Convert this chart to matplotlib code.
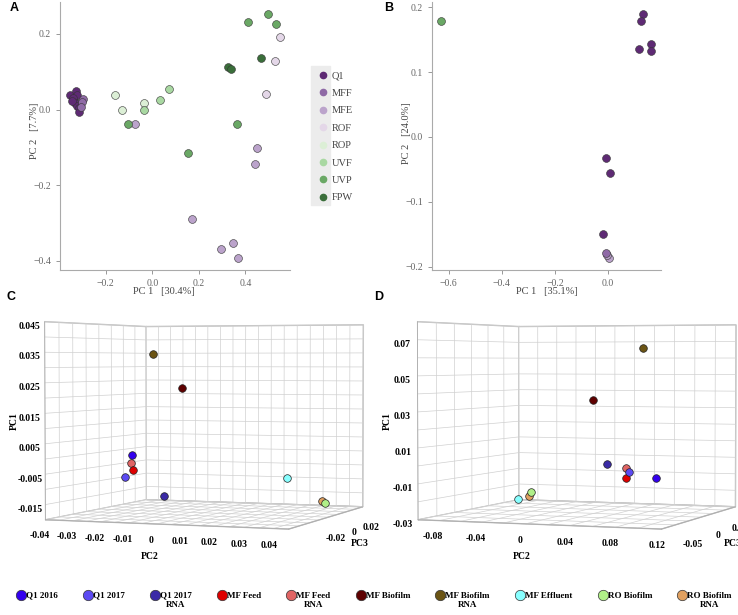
import numpy as np
import matplotlib
matplotlib.use("Agg")
import matplotlib.pyplot as plt
from matplotlib.lines import Line2D
from matplotlib.patches import Rectangle

plt.rcParams["font.family"] = ["Liberation Serif", "DejaVu Serif"]
plt.rcParams["grid.color"] = "#d0d0d0"
plt.rcParams["grid.linewidth"] = 0.5

# ---- panel A / B data (PCA scores) ----
groups = ["Q1", "MFF", "MFE", "ROF", "ROP", "UVF", "UVP", "FPW"]
group_colors = ["#5e2a74", "#8f6aa6", "#bba3cb", "#e4d7e8",
                "#dcefd6", "#a9d8a2", "#6aa865", "#3a6e3a"]

a_x = {
    "Q1": [-0.354, -0.337, -0.328, -0.322, -0.342, -0.332, -0.325, -0.317, -0.314, -0.347],
    "MFF": [-0.297, -0.304, -0.308],
    "MFE": [-0.074, 0.448, 0.441, 0.169, 0.294, 0.348, 0.370],
    "ROF": [0.549, 0.529, 0.487],
    "ROP": [-0.160, -0.129, -0.034],
    "UVF": [-0.034, 0.034, 0.073],
    "UVP": [-0.103, 0.413, 0.496, 0.530, 0.365, 0.155],
    "FPW": [0.467, 0.324, 0.338],
}
a_y = {
    "Q1": [0.038, 0.025, 0.048, 0.037, 0.031, 0.018, 0.009, 0.003, -0.006, 0.022],
    "MFF": [0.029, 0.019, 0.006],
    "MFE": [-0.037, -0.102, -0.144, -0.289, -0.368, -0.353, -0.393],
    "ROF": [0.192, 0.127, 0.042],
    "ROP": [0.039, 0.000, 0.016],
    "UVF": [0.000, 0.024, 0.054],
    "UVP": [-0.039, 0.232, 0.253, 0.225, -0.039, -0.116],
    "FPW": [0.137, 0.113, 0.106],
}

b_x = {
    "Q1": [0.133, 0.123, 0.117, 0.161, 0.163, -0.009, 0.009, -0.019],
    "MFE": [0.002, -0.003],
    "MFF": [-0.008],
    "UVP": [-0.628],
}
b_y = {
    "Q1": [0.189, 0.178, 0.136, 0.143, 0.132, -0.032, -0.056, -0.149],
    "MFE": [-0.186, -0.182],
    "MFF": [-0.179],
    "UVP": [0.178],
}

# ---- panel C / D data (3D PCA) ----
samples = ["Q1 2016", "Q1 2017", "Q1 2017\nRNA", "MF Feed", "MF Feed\nRNA",
           "MF Biofilm", "MF Biofilm\nRNA", "MF Effluent", "RO Biofilm",
           "RO Biofilm\nRNA"]
sample_colors = ["#3300ee", "#5c4af2", "#3b2ba6", "#dd0000", "#e06464",
                 "#5e0000", "#6b5414", "#88ffff", "#b0ef88", "#e0a060"]

c_pc1 = [-0.0009, -0.0089, -0.0150, -0.0063, -0.0039, 0.0227, 0.0345, -0.0075, -0.0156, -0.0150]
c_pc2 = [-0.0293, -0.0319, -0.0169, -0.0288, -0.0297, -0.0099, -0.0210, 0.0287, 0.0424, 0.0414]
c_pc3 = [-0.006, -0.006, -0.006, -0.006, -0.006, -0.006, -0.006, -0.006, -0.006, -0.006]

d_pc1 = [-0.0086, -0.0054, -0.0012, -0.0091, -0.0031, 0.0359, 0.0657, -0.0230, -0.0187, -0.0209]
d_pc2 = [0.0788, 0.0534, 0.0325, 0.0507, 0.0507, 0.0195, 0.0663, -0.0534, -0.0410, -0.0432]
d_pc3 = [0.0, 0.0, 0.0, 0.0, 0.0, 0.0, 0.0, 0.0, 0.0, 0.0]

fig = plt.figure(figsize=(7.38, 6.15), dpi=100)


def style_2d(ax):
    for s in ["top", "right"]:
        ax.spines[s].set_visible(False)
    for s in ["left", "bottom"]:
        ax.spines[s].set_color("#aaaaaa")
        ax.spines[s].set_linewidth(0.8)
    ax.tick_params(colors="#888888", labelcolor="#666666", labelsize=7, length=3, width=0.6)


# panel A
axA = fig.add_axes([60 / 738, 1 - 270 / 615, 230 / 738, 268 / 615])
for g, c in zip(groups, group_colors):
    axA.scatter(a_x[g], a_y[g], s=32, color=c, edgecolor="#333333", linewidth=0.4, zorder=3)
axA.set_xlim(-0.397, 0.592)
axA.set_ylim(-0.424, 0.284)
axA.set_xticks([-0.2, 0.0, 0.2, 0.4])
axA.set_yticks([-0.4, -0.2, 0.0, 0.2])
style_2d(axA)
axA.set_xlabel("PC 1   [30.4%]", fontsize=7.5, color="#444444")
axA.set_ylabel("PC 2   [7.7%]", fontsize=7.5, color="#444444")
axA.xaxis.set_label_coords(0.45, -0.062)
axA.yaxis.set_label_coords(-0.09, 0.52)

fig.patches.append(Rectangle((311 / 738, 1 - 205 / 615), 19 / 738, 139 / 615,
                             transform=fig.transFigure, color="#ececec", zorder=0))
handlesA = [Line2D([], [], marker="o", linestyle="", markersize=4.5, color=c) for c in group_colors]
fig.legend(handlesA, groups, loc="upper left", bbox_to_anchor=(313 / 738, 1 - 66 / 615),
           frameon=False, fontsize=7.5, labelcolor="#444444", handletextpad=0.3,
           labelspacing=0.78, borderpad=0, handlelength=1.0)

# panel B
axB = fig.add_axes([432 / 738, 1 - 270 / 615, 229.5 / 738, 268 / 615])
for g in ["UVP", "Q1", "MFE", "MFF"]:
    c = group_colors[groups.index(g)]
    axB.scatter(b_x[g], b_y[g], s=32, color=c, edgecolor="#333333", linewidth=0.4, zorder=3)
axB.set_xlim(-0.663, 0.201)
axB.set_ylim(-0.205, 0.208)
axB.set_xticks([-0.6, -0.4, -0.2, 0.0])
axB.set_yticks([-0.2, -0.1, 0.0, 0.1, 0.2])
style_2d(axB)
axB.set_xlabel("PC 1   [35.1%]", fontsize=7.5, color="#444444")
axB.set_ylabel("PC 2   [24.0%]", fontsize=7.5, color="#444444")
axB.xaxis.set_label_coords(0.5, -0.062)
axB.yaxis.set_label_coords(-0.09, 0.51)


def fmt(v):
    if abs(v) < 1e-9:
        return "0"
    return ("%.3f" % v).rstrip("0")


def pick(ticks, labelled):
    return [fmt(v) if any(abs(v - w) < 1e-9 for w in labelled) else "" for v in ticks]


def style_3d(ax, xt, xl, yt, yl, zt, zl):
    ax.set_facecolor("none")
    ax.set_xticks(xt)
    ax.set_yticks(yt)
    ax.set_zticks(zt)
    ax.set_xticklabels(pick(xt, xl))
    ax.set_yticklabels(pick(yt, yl))
    ax.set_zticklabels(pick(zt, zl))
    ax.set_xlim(xt[0], xt[-1])
    ax.set_ylim(yt[0], yt[-1])
    ax.set_zlim(zt[0], zt[-1])
    ax.zaxis._axinfo["juggled"] = (1, 2, 0)
    for axis in (ax.xaxis, ax.yaxis, ax.zaxis):
        axis.set_pane_color((1, 1, 1, 1))
        axis.pane.set_edgecolor("#bbbbbb")
        axis.line.set_color("#aaaaaa")
        axis.line.set_linewidth(0.6)
        axis._axinfo["tick"]["inward_factor"] = 0.0
        axis._axinfo["tick"]["outward_factor"] = 0.0
        axis._axinfo["grid"]["color"] = "#d0d0d0"
        axis._axinfo["grid"]["linewidth"] = 0.5
    ax.tick_params(labelsize=7)
    ax.tick_params(axis="z", pad=-3)
    ax.tick_params(axis="x", pad=-2)
    ax.tick_params(axis="y", pad=0)
    for t in ax.get_xticklabels() + ax.get_yticklabels() + ax.get_zticklabels():
        t.set_fontweight("bold")
    ax.zaxis.set_rotate_label(False)
    ax.set_xlabel("PC2", fontsize=7, fontweight="bold", labelpad=-5)
    ax.set_ylabel("PC3", fontsize=7, fontweight="bold", labelpad=-6)
    ax.set_zlabel("PC1", fontsize=7, fontweight="bold", labelpad=-11, rotation=90)


view_elev, view_azim = 2, -69

# panel C
axC = fig.add_axes([0.03, 0.063, 0.5, 0.5], projection="3d")
axC.view_init(elev=view_elev, azim=view_azim)
axC.set_box_aspect((1.45, 1.45, 1.12), zoom=1.25)
for i in range(len(samples)):
    axC.scatter(c_pc2[i], c_pc3[i], c_pc1[i], s=30, color=sample_colors[i],
                edgecolor="#222222", linewidth=0.5, depthshade=False)
style_3d(axC,
         np.round(np.arange(-0.04, 0.0451, 0.005), 3), [-0.04, -0.03, -0.02, -0.01, 0, 0.01, 0.02, 0.03, 0.04],
         np.round(np.arange(-0.05, 0.0301, 0.01), 3), [-0.02, 0, 0.02],
         np.round(np.arange(-0.02, 0.0451, 0.005), 3), [-0.015, -0.005, 0.005, 0.015, 0.025, 0.035, 0.045])

# panel D
axD = fig.add_axes([0.535, 0.063, 0.5, 0.5], projection="3d")
axD.view_init(elev=view_elev, azim=view_azim)
axD.set_box_aspect((1.45, 1.45, 1.12), zoom=1.25)
for i in range(len(samples)):
    axD.scatter(d_pc2[i], d_pc3[i], d_pc1[i], s=30, color=sample_colors[i],
                edgecolor="#222222", linewidth=0.5, depthshade=False)
style_3d(axD,
         np.round(np.arange(-0.1, 0.1301, 0.02), 3), [-0.08, -0.04, 0, 0.04, 0.08, 0.12],
         np.round(np.arange(-0.075, 0.0751, 0.025), 3), [-0.05, 0, 0.05],
         np.round(np.arange(-0.03, 0.0801, 0.01), 3), [-0.03, -0.01, 0.01, 0.03, 0.05, 0.07])

# panel letters
for lab, x, y in [("A", 10, 8), ("B", 384, 8), ("C", 6, 297), ("D", 374, 297)]:
    fig.text(x / 738, 1 - y / 615, lab, fontsize=9, fontweight="bold",
             family="Liberation Sans", va="center", ha="left")

# bottom legend
handles = [Line2D([], [], marker="o", linestyle="", markersize=7.5, color=c,
                  markeredgecolor="#333333", markeredgewidth=0.5) for c in sample_colors]
leg = fig.legend(handles, samples, loc="upper center", bbox_to_anchor=(0.507, 1 - 587 / 615),
                 ncol=10, frameon=False, fontsize=6.5, handletextpad=0.05,
                 columnspacing=2.85, handlelength=1.0, borderpad=0)
for t in leg.get_texts():
    t.set_fontweight("bold")
    t.set_multialignment("center")
leg._legend_handle_box.align = "top"
for col in leg._legend_handle_box.get_children():
    for item in col.get_children():
        item.align = "top"

fig.savefig("out.png", dpi=100, facecolor="white")
